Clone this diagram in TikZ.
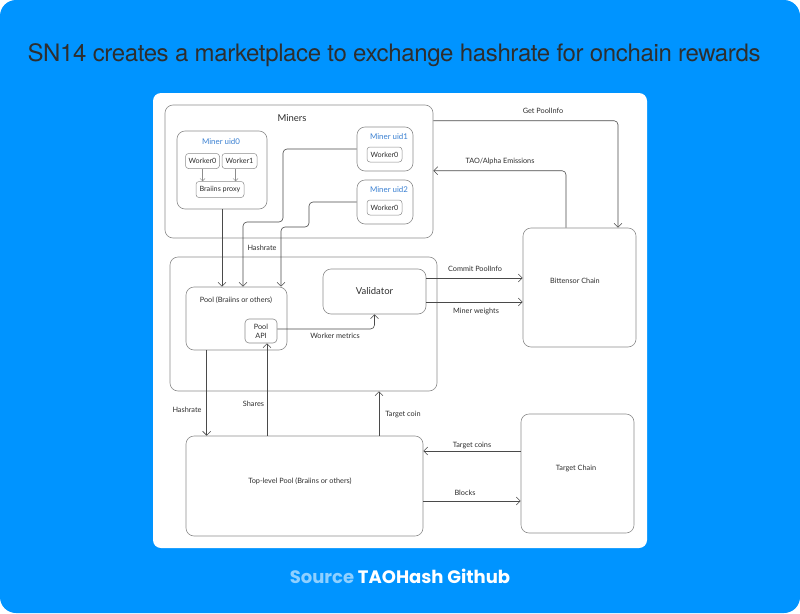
\documentclass[tikz,border=0pt]{standalone}
\usepackage{fontspec}
\setmainfont{Lato}
\newfontfamily\titlefont[LetterSpace=-1.5]{TeX Gyre Heros}
\newfontfamily\sourcefont{Poppins}
\usetikzlibrary{arrows.meta,positioning}
\definecolor{skyblue}{HTML}{0094FF}
\definecolor{paleblue}{HTML}{8FD0FF}
\definecolor{uidblue}{HTML}{3A80D2}
\definecolor{boxgray}{HTML}{8C8C8C}
\definecolor{linegray}{HTML}{4A4A4A}
\definecolor{inkgray}{HTML}{2E2E2E}

\begin{document}
\begin{tikzpicture}[x=1pt,y=-1pt,
    box/.style={draw=boxgray,line width=0.6pt,rounded corners=8pt,inner sep=0pt,fill=white},
    smallbox/.style={draw=boxgray,line width=0.5pt,rounded corners=3pt,inner sep=0pt,
      font=\fontsize{7.2}{8}\selectfont,text=inkgray},
    lbl/.style={font=\fontsize{7.3}{8.5}\selectfont,text=inkgray,inner sep=1pt},
    uidlbl/.style={font=\fontsize{7.9}{9}\selectfont,text=uidblue,inner sep=1pt},
    conn/.style={draw=linegray,line width=0.6pt,rounded corners=4pt,
      -{Straight Barb[length=4pt,width=8pt]}},
    thinconn/.style={draw=boxgray,line width=0.4pt,-{Straight Barb[length=2.5pt,width=5pt]}}]
  \useasboundingbox (0,0) rectangle (800,613);
  \fill[white] (0,0) rectangle (800,613);
  \fill[skyblue,rounded corners=16pt] (0,0) rectangle (800,613);
  \fill[white,rounded corners=8pt] (153,93) rectangle (647,548);

  % title and source
  \node[font=\titlefont\fontsize{24}{27}\selectfont,text=inkgray] (title) at (394,55)
    {SN14 creates a marketplace to exchange hashrate for onchain rewards};
  \node[font=\sourcefont\bfseries\fontsize{18}{21}\selectfont] (source) at (400,576)
    {\textcolor{paleblue}{Source} \textcolor{white}{TAOHash Github}};

  % miners
  \node[box,minimum width=268pt,minimum height=133pt] (miners) at (299,171.5) {};
  \node[font=\fontsize{9.5}{11}\selectfont,text=inkgray] (miners-t) at (292,118) {Miners};
  \node[box,minimum width=90pt,minimum height=78pt] (uid0) at (222,170) {};
  \node[uidlbl] (uid0-t) at (221,142) {Miner uid0};
  \node[smallbox,minimum width=34pt,minimum height=15pt] (w0) at (202.5,161) {Worker0};
  \node[smallbox,minimum width=35pt,minimum height=15pt] (w1) at (239.5,161) {Worker1};
  \node[smallbox,minimum width=48pt,minimum height=16pt] (proxy) at (220,189.5) {Braiins proxy};
  \draw[thinconn] (w0.south) -- (w0.south |- proxy.north);
  \draw[thinconn] ([xshift=-4pt]w1.south) -- ([xshift=-4pt]w1.south |- proxy.north);
  \foreach \i/\y in {1/149,2/202}{
    \node[box,minimum width=56pt,minimum height=44pt] (uid\i) at (385,\y) {};
    \node[uidlbl] (uid\i-t) at (389,\y-12) {Miner uid\i};
    \node[smallbox,minimum width=35pt,minimum height=15pt] (uid\i-w0) at (384.5,\y+5.5) {Worker0};
  }

  % pool
  \node[box,minimum width=267pt,minimum height=134pt] (poolarea) at (303.5,324) {};
  \node[box,minimum width=101pt,minimum height=63pt] (pool) at (236.5,318.5) {};
  \node[lbl] (pool-t) at (236,300) {Pool (Braiins or others)};
  \node[box,rounded corners=4pt,minimum width=32pt,minimum height=24pt,
    font=\fontsize{7.3}{9}\selectfont,text=inkgray,align=center] (api) at (261,331) {Pool\\API};
  \node[box,minimum width=103pt,minimum height=45pt,
    font=\fontsize{9.5}{11}\selectfont,text=inkgray] (validator) at (374.5,291.5) {Validator};

  % chains
  \node[box,minimum width=113pt,minimum height=119pt] (bchain) at (579.5,287.5) {};
  \node[lbl] (bchain-t) at (575,281) {Bittensor Chain};
  \node[box,minimum width=237pt,minimum height=100pt] (toppool) at (304.5,486) {};
  \node[lbl] (toppool-t) at (300,481) {Top-level Pool (Braiins or others)};
  \node[box,minimum width=113pt,minimum height=119pt] (tchain) at (577.5,473.5) {};
  \node[lbl] (tchain-t) at (576,468) {Target Chain};

  % hashrate into the pool
  \coordinate (in1) at (243,222);
  \coordinate (in2) at (281,227);
  \draw[conn] (uid0.south) -- (uid0.south |- pool.north);
  \draw[conn] (uid1.west) -| (283,222) -| (in1 |- pool.north);
  \draw[conn] (uid2.west) -| (309,227) -| (in2 |- pool.north);
  \node[lbl] (hash1-t) at (262,248) {Hashrate};

  % bittensor links
  \draw[conn] ([yshift=-16pt]miners.north east) -| ([xshift=38.5pt]bchain.north);
  \node[lbl] (getinfo-t) at (543,111) {Get PoolInfo};
  \draw[conn] ([xshift=-13.5pt]bchain.north) |- ([yshift=-66pt]miners.north east);
  \node[lbl] (emis-t) at (500,161) {TAO/Alpha Emissions};
  \coordinate (c1) at ([yshift=13.5pt]validator.east);
  \coordinate (c2) at ([yshift=-10.5pt]validator.east);
  \draw[conn] (c1) -- (c1 -| bchain.west);
  \node[lbl] (commit-t) at (475,269) {Commit PoolInfo};
  \draw[conn] (c2) -- (c2 -| bchain.west);
  \node[lbl] (weights-t) at (476,311) {Miner weights};
  \draw[conn] ([yshift=2pt]api.east) -| (validator.south);
  \node[lbl] (metrics-t) at (335,335.5) {Worker metrics};

  % top-level pool links
  \coordinate (d1) at ([xshift=21pt]pool.south west);
  \coordinate (d2) at ([xshift=6pt]api.south);
  \coordinate (d3) at ([xshift=74.5pt]toppool.north);
  \draw[conn] (d1) -- (d1 |- toppool.north);
  \node[lbl] (hash2-t) at (187,409.5) {Hashrate};
  \draw[conn] (d2 |- toppool.north) -- (d2);
  \node[lbl] (shares-t) at (253.5,404) {Shares};
  \draw[conn] (d3) -- (d3 |- poolarea.south);
  \node[lbl] (tcoin-t) at (403,414) {Target coin};
  \coordinate (e1) at ([yshift=22.5pt]tchain.west);
  \coordinate (e2) at ([yshift=-27.5pt]tchain.west);
  \draw[conn] (e1) -- (e1 -| toppool.east);
  \node[lbl] (tcoins-t) at (472,445) {Target coins};
  \draw[conn] (e2 -| toppool.east) -- (e2);
  \node[lbl] (blocks-t) at (465,493) {Blocks};
\end{tikzpicture}
\end{document}
